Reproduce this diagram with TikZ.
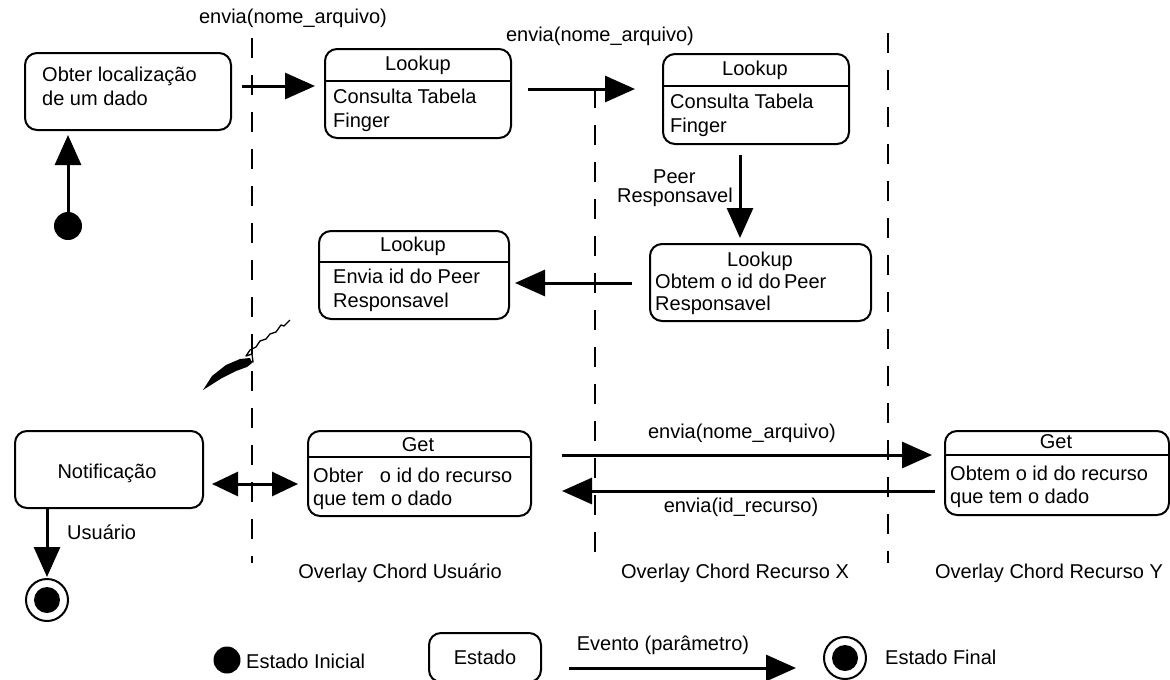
\documentclass[tikz,border=0pt]{standalone}
\usepackage{fontspec}
\setmainfont{Liberation Sans}
\usetikzlibrary{arrows.meta}
\begin{document}
\begin{tikzpicture}[x=1pt,y=-1pt,
  every node/.style={font=\fontsize{20}{24}\selectfont, inner sep=0pt},
  statebox/.style={draw, line width=2pt, rounded corners=12pt, anchor=north west},
  txt/.style={anchor=west, text height=14pt, text depth=4pt},
  hdr/.style={text height=14pt, text depth=4pt},
  sep/.style={line width=1.2pt},
  flow/.style={line width=3pt, -{Triangle[length=30pt,width=26pt]}},
  flowboth/.style={line width=3pt, {Triangle[length=26pt,width=24pt]}-{Triangle[length=26pt,width=24pt]}},
  life/.style={line width=2pt, dash pattern=on 20pt off 17pt},
  initstate/.style={circle, fill, minimum size=28pt},
  finalstate/.style={circle, draw, line width=2pt, minimum size=42pt,
    path picture={\fill (path picture bounding box.center) circle (13pt);}},
]
\useasboundingbox (0,0) rectangle (1170,680);

% swimlane separators
\draw[life] (252,38) -- (252,563);
\draw[life] (595,88) -- (595,563);
\draw[life] (888,33) -- (888,563);

% initial state and first activity
\node[initstate] (init) at (68,226) {};
\node[statebox, minimum width=206pt, minimum height=77pt] (obter) at (24,52) {};
\node[txt] (obterA) at (42,76) {Obter localização};
\node[txt] (obterB) at (42,100) {de um dado};

% Lookup 1
\node[statebox, minimum width=186pt, minimum height=89pt] (lk1) at (324,48) {};
\node[hdr] (lk1h) at (418,65) {Lookup};
\draw[sep] (lk1.west |- 0,81) -- (lk1.east |- 0,81);
\node[txt] (lk1a) at (333,98) {Consulta Tabela};
\node[txt] (lk1b) at (333,122) {Finger};

% Lookup 2
\node[statebox, minimum width=186pt, minimum height=90pt] (lk2) at (662,53) {};
\node[hdr] (lk2h) at (755,70) {Lookup};
\draw[sep] (lk2.west |- 0,86) -- (lk2.east |- 0,86);
\node[txt] (lk2a) at (670,103) {Consulta Tabela};
\node[txt] (lk2b) at (670,127) {Finger};

% Lookup 3
\node[statebox, minimum width=221pt, minimum height=77pt] (lk3) at (649,243) {};
\node[hdr] (lk3h) at (760,261) {Lookup};
\node[txt] (lk3a) at (655,283) {Obtem o id do\,Peer};
\node[txt] (lk3b) at (655,305) {Responsavel};

% Lookup 4
\node[statebox, minimum width=190pt, minimum height=88pt] (lk4) at (318,230) {};
\node[hdr] (lk4h) at (413,246) {Lookup};
\draw[sep] (lk4.west |- 0,262) -- (lk4.east |- 0,262);
\node[txt] (lk4a) at (333,278) {Envia id do Peer};
\node[txt] (lk4b) at (333,302) {Responsavel};

% Notification
\node[statebox, minimum width=188pt, minimum height=77pt] (notif) at (14,430) {};
\node (notifT) at (107,473) {Notificação};

% Get (user overlay)
\node[statebox, minimum width=223pt, minimum height=85pt] (get1) at (307,430) {};
\node[hdr] (get1h) at (418,446) {Get};
\draw[sep] (get1.west |- 0,457) -- (get1.east |- 0,457);
\node[txt] (get1a) at (313,477) {Obter\ \ \ o id do recurso};
\node[txt] (get1b) at (313,500) {que tem o dado};

% Get (resource Y overlay)
\node[statebox, minimum width=224pt, minimum height=84pt] (getY) at (944,430) {};
\node[hdr] (getYh) at (1056,443) {Get};
\draw[sep] (getY.west |- 0,455) -- (getY.east |- 0,455);
\node[txt] (getYa) at (950,475) {Obtem o id do recurso};
\node[txt] (getYb) at (950,498) {que tem o dado};

% final state
\node[finalstate] (fin) at (47,600) {};

% transitions
\draw[flow, shorten >=4pt] (init.north) -- (init.north |- obter.south);
\coordinate (s1) at ([xshift=10pt,yshift=5.5pt]obter.east);
\draw[flow, shorten >=9pt] (s1) -- (s1 -| lk1.west);
\coordinate (s2) at ([xshift=16pt,yshift=4.5pt]lk1.east);
\draw[flow, shorten >=27pt] (s2) -- (s2 -| lk2.west);
\coordinate (s3) at ([xshift=-16pt,yshift=-10pt]lk2.south);
\draw[flow, shorten >=5pt] (s3) -- (s3 |- lk3.north);
\coordinate (s4) at ([xshift=-17pt,yshift=-0.5pt]lk3.west);
\draw[flow, shorten >=5pt] (s4) -- (s4 -| lk4.east);
\coordinate (s6) at ([xshift=8pt,yshift=-14.5pt]notif.east);
\draw[flowboth, shorten >=9pt] (s6) -- (s6 -| get1.west);
\coordinate (s7) at ([xshift=30pt,yshift=18.5pt]get1.east);
\draw[flow, shorten >=12pt] (s7) -- (s7 -| getY.west);
\coordinate (s8) at ([xshift=-9pt,yshift=-18pt]getY.west);
\draw[flow, shorten >=30pt] (s8) -- (s8 -| get1.east);
\coordinate (s9) at (fin.north |- notif.south);
\draw[flow, shorten >=0pt] (s9) -- ([yshift=1pt]fin.north);

% transition labels
\node (e1) at (293,18) {envia(nome\_arquivo)};
\node (e2) at (600,36) {envia(nome\_arquivo)};
\node[anchor=west] (pr1) at (653,177) {Peer};
\node[anchor=east] (pr2) at (733,197) {Responsavel};
\node (e3) at (742,433) {envia(nome\_arquivo)};
\node (e4) at (741,507) {envia(id\_recurso)};
\node[anchor=west] (usr) at (67,532) {Usuário};

% stray pen stroke
\draw[line width=1.3pt, line join=round] (290,320) -- (284,326) -- (281,325) -- (276,332)
  -- (270,334) -- (266,339) -- (260,341) -- (256,347) -- (250,350) -- (246,356)
  -- (252,354) -- (253,362) -- (246,360);
\fill (203,390) -- (212,376) -- (226,365) -- (240,359) -- (250,358) -- (252,363)
  -- (247,367) -- (236,371) -- (222,378) -- cycle;

% lane titles
\node (lane1) at (400,573) {Overlay Chord Usuário};
\node (lane2) at (735,573) {Overlay Chord Recurso X};
\node (lane3) at (1049,573) {Overlay Chord Recurso Y};

% legend
\node[initstate, minimum size=27pt] (lgInit) at (227,660) {};
\node[anchor=west] (lgInitT) at (246,661) {Estado Inicial};
\node[statebox, minimum width=112pt, minimum height=49pt] (lgState) at (428,632) {};
\node (lgStateT) at (485,657) {Estado};
\node[finalstate, minimum size=42pt] (lgFin) at (845,658) {};
\node[anchor=west] (lgFinT) at (885,657) {Estado Final};
\coordinate (s10) at ([xshift=27pt,yshift=-10.5pt]lgState.east);
\draw[flow, shorten >=27pt] (s10) -- (s10 -| lgFin.west);
\node (lgEv) at (663,645) {Evento (parâmetro)};
\end{tikzpicture}
\end{document}
